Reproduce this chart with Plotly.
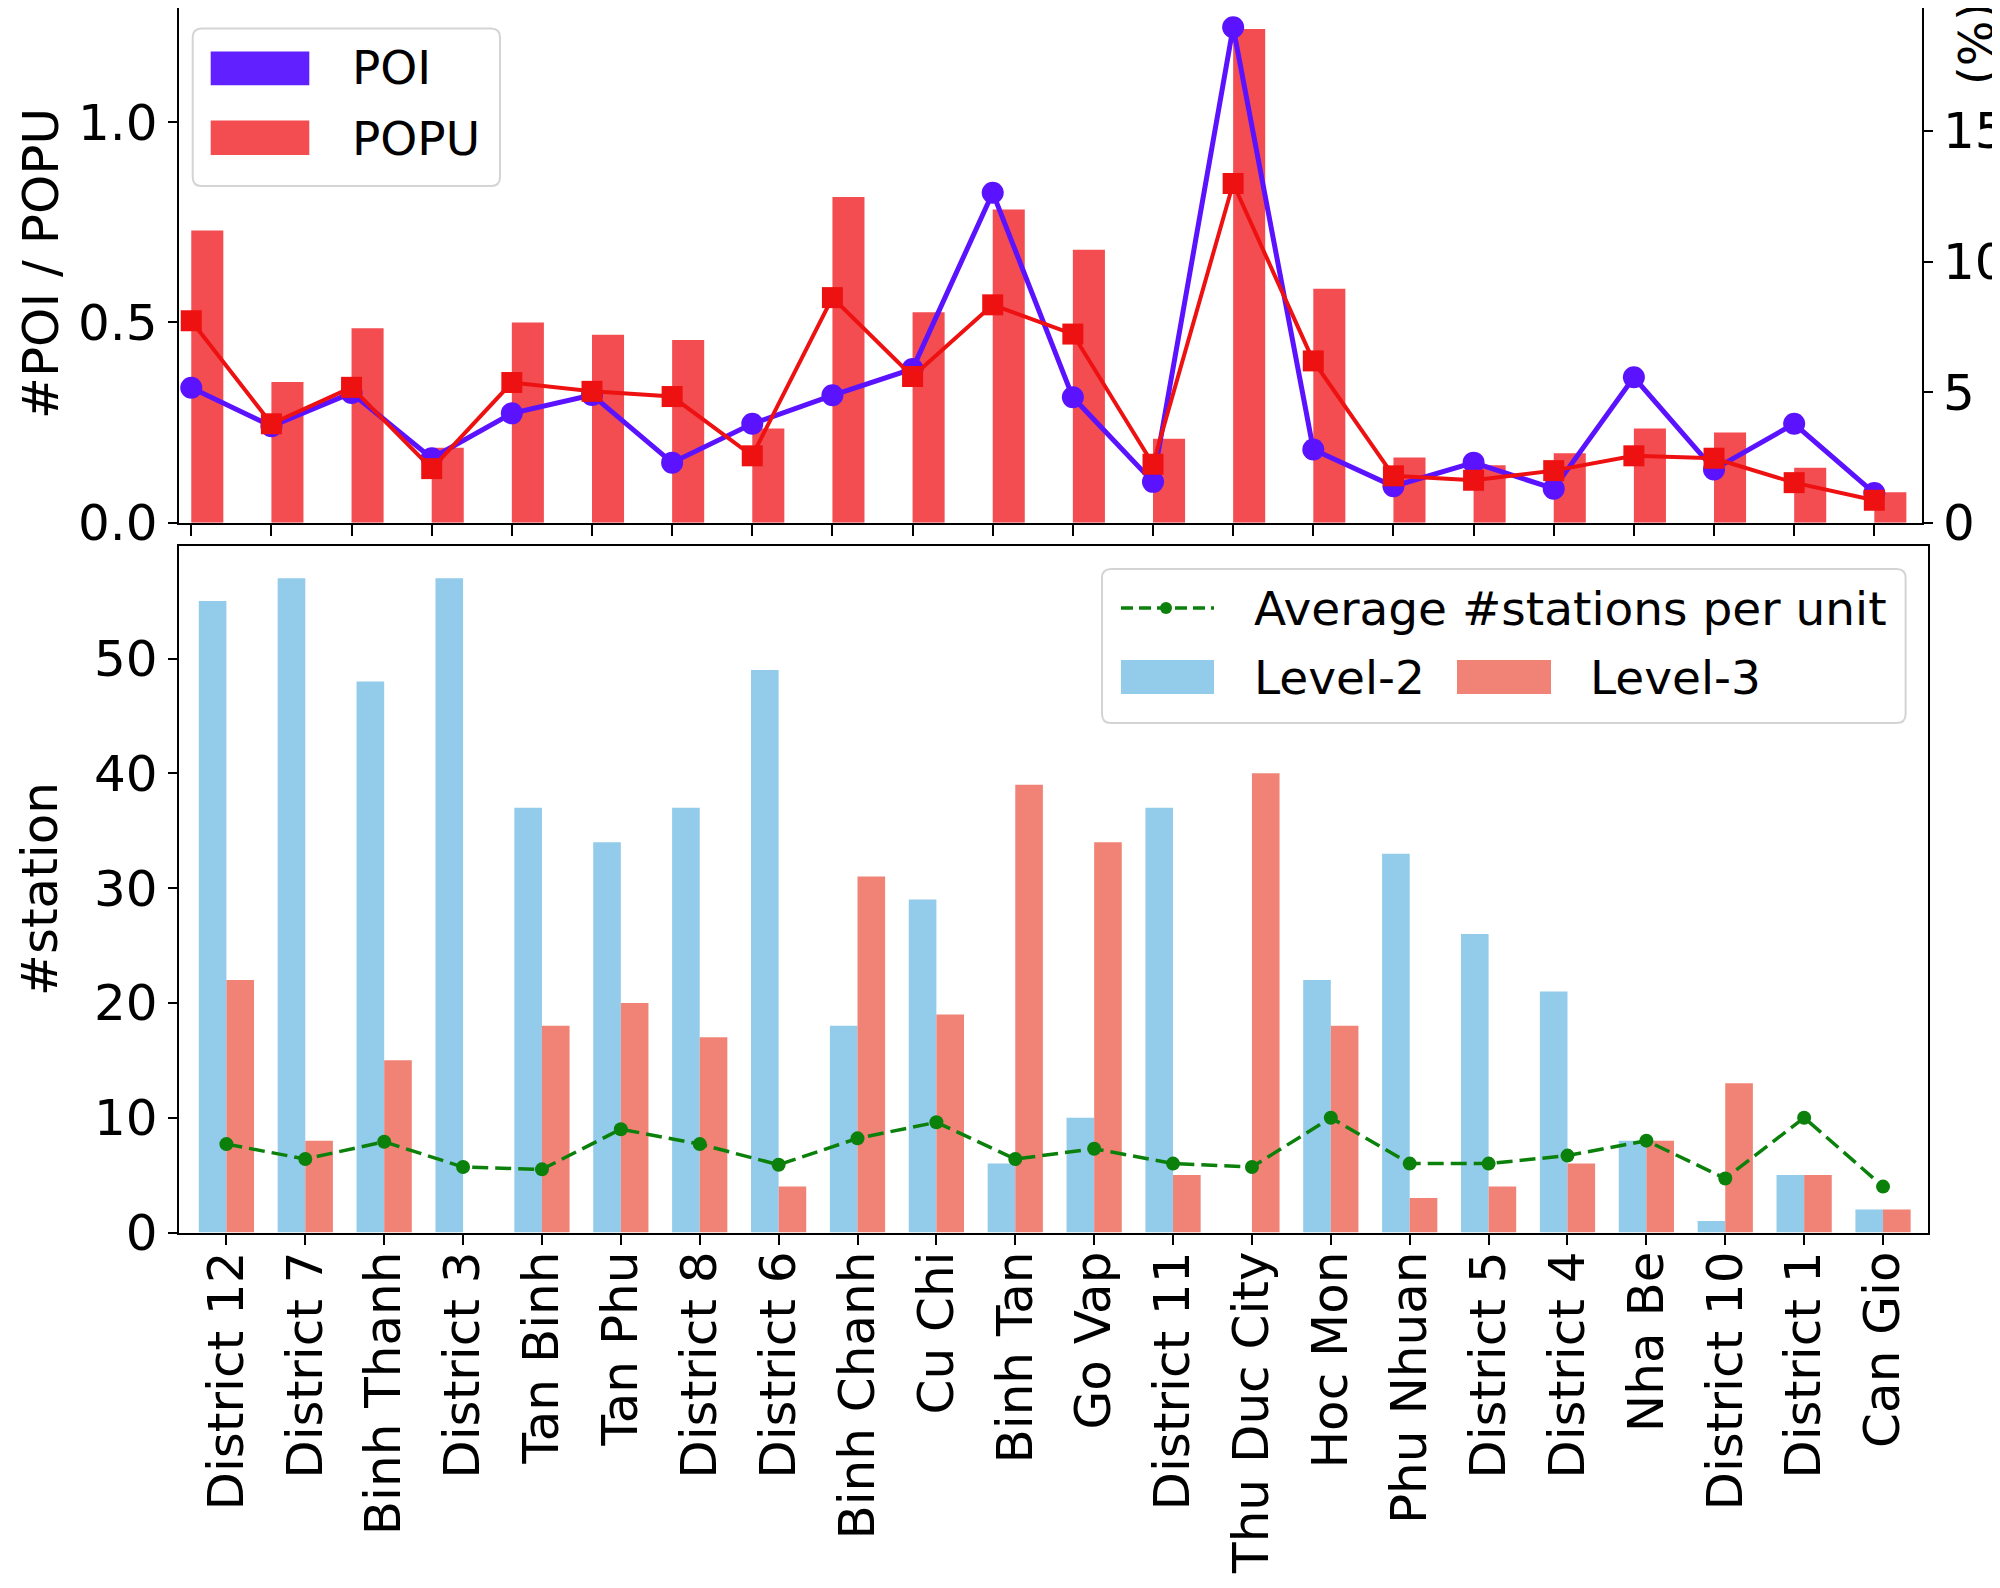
import plotly.graph_objects as go

# ---------------- data ----------------
districts = ["District 12", "District 7", "Binh Thanh", "District 3", "Tan Binh", "Tan Phu",
             "District 8", "District 6", "Binh Chanh", "Cu Chi", "Binh Tan", "Go Vap",
             "District 11", "Thu Duc City", "Hoc Mon", "Phu Nhuan", "District 5", "District 4",
             "Nha Be", "District 10", "District 1", "Can Gio"]

poi = [0.337, 0.241, 0.324, 0.161, 0.273, 0.319, 0.150, 0.247, 0.318, 0.384, 0.824, 0.313,
       0.102, 1.237, 0.183, 0.091, 0.150, 0.085, 0.363, 0.133, 0.247, 0.074]
popu = [0.504, 0.247, 0.338, 0.135, 0.350, 0.328, 0.315, 0.167, 0.562, 0.365, 0.544, 0.471,
        0.146, 0.847, 0.404, 0.117, 0.106, 0.130, 0.167, 0.161, 0.100, 0.056]
popu_pct = [11.19, 5.39, 7.44, 2.87, 7.66, 7.20, 6.99, 3.61, 12.47, 8.06, 11.99, 10.45,
            3.21, 18.90, 8.96, 2.50, 2.20, 2.66, 3.61, 3.45, 2.10, 1.17]

level2 = [55, 57, 48, 57, 37, 34, 37, 49, 18, 29, 6, 10, 37, 0, 22, 33, 26, 21, 8, 1, 5, 2]
level3 = [22, 8, 15, 0, 18, 20, 17, 4, 31, 19, 39, 34, 5, 40, 18, 3, 4, 6, 8, 13, 5, 2]
avg_station = [7.7, 6.4, 7.9, 5.7, 5.5, 9.0, 7.7, 5.9, 8.2, 9.6, 6.4, 7.3, 6.0, 5.7, 10.0,
               6.0, 6.0, 6.7, 8.0, 4.7, 10.0, 4.0]

top_left_ticks = [0.0, 0.5, 1.0]
top_right_ticks = [0, 5, 10, 15]
bottom_ticks = [0, 10, 20, 30, 40, 50]

# ---------------- style ----------------
PAGE_OFF = 8            # default body margin of the html page
W, H = 2000 - PAGE_OFF, 1588 - PAGE_OFF
FONT = "DejaVu Sans"
C_POI = "#5A12FF"
C_POI_PATCH = "#6020FF"
C_POPU_LINE = "#EE1111"
C_POPU_BAR = "#F34D52"
C_L2 = "#93CBEA"
C_L3 = "#F08276"
C_AVG = "#0B800B"
TICK = 50
LEG = 47


def X(px):
    return min(1.0, max(0.0, (px - PAGE_OFF) / W))


def Y(py):
    return min(1.0, max(0.0, 1 - (py - PAGE_OFF) / H))


fig = go.Figure()

# top panel: bars on right axis (y), lines on left axis (y2, overlaying -> drawn above)
fig.add_trace(go.Bar(x=districts, y=popu_pct, width=0.4, offset=0.0,
                     marker=dict(color=C_POPU_BAR, line=dict(width=0)),
                     xaxis="x", yaxis="y", showlegend=False, name="POPU (%)"))
fig.add_trace(go.Scatter(x=districts, y=poi, mode="lines+markers",
                         line=dict(color=C_POI, width=5),
                         marker=dict(symbol="circle", size=22, color=C_POI, line=dict(width=0)),
                         xaxis="x", yaxis="y2", showlegend=False, name="POI"))
fig.add_trace(go.Scatter(x=districts, y=popu, mode="lines+markers",
                         line=dict(color=C_POPU_LINE, width=4),
                         marker=dict(symbol="square", size=21, color=C_POPU_LINE, line=dict(width=0)),
                         xaxis="x", yaxis="y2", showlegend=False, name="POPU"))

# bottom panel
fig.add_trace(go.Bar(x=districts, y=level2, width=0.35, offset=-0.35,
                     marker=dict(color=C_L2, line=dict(width=0)),
                     xaxis="x2", yaxis="y3", showlegend=False, name="Level-2"))
fig.add_trace(go.Bar(x=districts, y=level3, width=0.35, offset=0.0,
                     marker=dict(color=C_L3, line=dict(width=0)),
                     xaxis="x2", yaxis="y3", showlegend=False, name="Level-3"))
fig.add_trace(go.Scatter(x=districts, y=avg_station, mode="lines+markers",
                         line=dict(color=C_AVG, width=3.5, dash="16px,7px"),
                         marker=dict(symbol="circle", size=14, color=C_AVG, line=dict(width=0)),
                         xaxis="x2", yaxis="y3", showlegend=False,
                         name="Average #stations per unit"))

axis_common = dict(showgrid=False, zeroline=False, showline=True, linecolor="black",
                   linewidth=2, ticks="outside", tickcolor="black", tickwidth=2,
                   automargin=False,
                   tickfont=dict(family=FONT, size=TICK, color="black"))
axis_notf = {k: v for k, v in axis_common.items() if k != "tickfont"}

# top panel: y=0 at page px 522.7; 400.5 px per unit (left), 26.12 px per unit (right)
TOP_BOTTOM_PX, TOP_TOP_PX = 522.7, 8.0
left_max = (TOP_BOTTOM_PX - TOP_TOP_PX) / 400.5
right_max = (TOP_BOTTOM_PX - TOP_TOP_PX) / 26.12

fig.update_layout(
    width=W, height=H,
    margin=dict(l=0, r=0, t=0, b=0, pad=0, autoexpand=False),
    paper_bgcolor="white", plot_bgcolor="white",
    barmode="overlay",
    font=dict(family=FONT, color="black"),
    xaxis=dict(domain=[X(178.6), X(1922)], anchor="y", type="category",
               categoryorder="array", categoryarray=districts,
               range=[-0.158, 21.595], showticklabels=False, ticklen=11, mirror=True,
               **axis_notf),
    yaxis=dict(domain=[Y(TOP_BOTTOM_PX), Y(TOP_TOP_PX)], anchor="x", side="right",
               range=[0, right_max], tickvals=top_right_ticks, ticklen=9, **axis_common),
    yaxis2=dict(overlaying="y", anchor="x", side="left", range=[0, left_max],
                tickvals=top_left_ticks, ticktext=[f"{v:.1f}" for v in top_left_ticks],
                ticklen=9, **axis_common),
    xaxis2=dict(domain=[X(178.6), X(1928)], anchor="y3", type="category",
                categoryorder="array", categoryarray=districts,
                range=[-0.606, 21.57], tickangle=-90, ticklen=10, mirror=True,
                ticklabelstandoff=-13, **axis_common),
    yaxis3=dict(domain=[Y(1232.5), Y(546)], anchor="x2", range=[0, 59.8],
                tickvals=bottom_ticks, ticklen=9, mirror=True, **axis_common),
)


def rounded_rect(x0, y0, x1, y1, r):
    return (f"M {X(x0 + r)},{Y(y0)} L {X(x1 - r)},{Y(y0)} Q {X(x1)},{Y(y0)} {X(x1)},{Y(y0 + r)} "
            f"L {X(x1)},{Y(y1 - r)} Q {X(x1)},{Y(y1)} {X(x1 - r)},{Y(y1)} "
            f"L {X(x0 + r)},{Y(y1)} Q {X(x0)},{Y(y1)} {X(x0)},{Y(y1 - r)} "
            f"L {X(x0)},{Y(y0 + r)} Q {X(x0)},{Y(y0)} {X(x0 + r)},{Y(y0)} Z")


shapes = []
# legend boxes
for (x0, y0, x1, y1) in [(192.7, 28.5, 500, 186), (1102, 569, 1905.6, 723)]:
    shapes.append(dict(type="path", xref="paper", yref="paper",
                       path=rounded_rect(x0, y0, x1, y1, 9),
                       line=dict(color="#d4d4d4", width=2), fillcolor="rgba(255,255,255,0.85)"))
# patches
for (x0, y0, x1, y1, c) in [(210.7, 51.4, 309.3, 85.2, C_POI_PATCH),
                            (210.7, 120.6, 309.3, 155.0, C_POPU_BAR),
                            (1121, 660, 1214, 694, C_L2),
                            (1457, 660, 1551, 694, C_L3)]:
    shapes.append(dict(type="rect", xref="paper", yref="paper",
                       x0=X(x0), x1=X(x1), y0=Y(y1), y1=Y(y0),
                       line=dict(width=0), fillcolor=c))
# line sample for average
shapes.append(dict(type="line", xref="paper", yref="paper",
                   x0=X(1121), x1=X(1214), y0=Y(608), y1=Y(608),
                   line=dict(color=C_AVG, width=3.5, dash="12px,6px")))
shapes.append(dict(type="circle", xref="paper", yref="paper",
                   x0=X(1160), x1=X(1172), y0=Y(614), y1=Y(602),
                   line=dict(width=0), fillcolor=C_AVG))
fig.update_layout(shapes=shapes)

annotations = []
for (txt, x, y) in [("POI", 350, 68), ("POPU", 350, 138),
                    ("Average #stations per unit", 1252, 608),
                    ("Level-2", 1252, 677), ("Level-3", 1588, 677)]:
    annotations.append(dict(text=txt, x=X(x), y=Y(y), xref="paper", yref="paper",
                            xanchor="left", yanchor="middle", showarrow=False,
                            font=dict(family=FONT, size=LEG, color="black")))
# axis titles
annotations.append(dict(text="#POI / POPU", x=X(41), y=Y(264), xref="paper", yref="paper",
                        xanchor="center", yanchor="middle", textangle=-90, showarrow=False,
                        font=dict(family=FONT, size=TICK, color="black")))
annotations.append(dict(text="#station", x=X(40), y=Y(889), xref="paper", yref="paper",
                        xanchor="center", yanchor="middle", textangle=-90, showarrow=False,
                        font=dict(family=FONT, size=TICK, color="black")))
annotations.append(dict(text="(%)", x=X(1976), y=Y(44), xref="paper", yref="paper",
                        xanchor="center", yanchor="middle", textangle=-90, showarrow=False,
                        font=dict(family=FONT, size=48, color="black")))
fig.update_layout(annotations=annotations)

fig.write_html("out.html")
